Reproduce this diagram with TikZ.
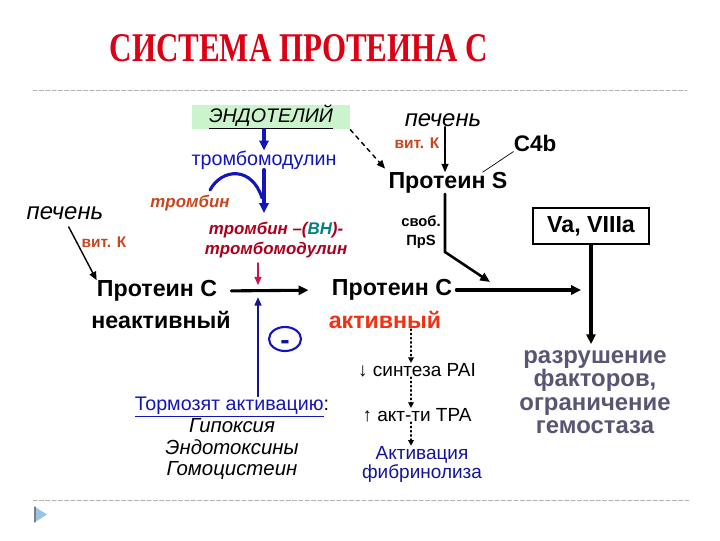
\documentclass[tikz,border=0pt]{standalone}
\usepackage{fontspec}
\setmainfont{Liberation Sans}
\newfontfamily\titlefont{Liberation Serif}
\usetikzlibrary{arrows.meta}
\usetikzlibrary{shapes.geometric}
\usetikzlibrary{calc}

\begin{document}
\begin{tikzpicture}
			[x=0.025cm,y=-0.025cm,line cap=round,
			%Styles
			txt/.style={inner sep=0pt,align=center},
			protein/.style={txt,font=\bfseries\fontsize{16.5}{19}\selectfont},
			liver/.style={txt,font=\itshape\fontsize{17}{20}\selectfont},
			vitk/.style={txt,text=brownred,font=\bfseries\fontsize{11}{13}\selectfont},
			plain text/.style={txt,font=\fontsize{13.5}{12.5}\selectfont},
			main arrow/.style={line width=2.2pt,-{Triangle[length=7pt,width=6.5pt]}},
			thin arrow/.style={line width=1pt,-{Triangle[length=6pt,width=5pt]}},
			dotted arrow/.style={dotted,line width=1pt,-{Triangle[length=4pt,width=4pt]}},
			separator/.style={gray!60,dash pattern=on 3pt off 1.5pt,line width=0.6pt}
			]
			
			%Colors
			\definecolor{titlered}{RGB}{220,0,20}
			\definecolor{endogreen}{RGB}{204,244,204}
			\definecolor{tbmblue}{RGB}{20,20,190}
			\definecolor{brownred}{RGB}{200,70,30}
			\definecolor{complexred}{RGB}{170,0,30}
			\definecolor{bhteal}{RGB}{0,128,128}
			\definecolor{activered}{RGB}{240,50,20}
			\definecolor{destrgray}{RGB}{90,85,115}
			\definecolor{navy}{RGB}{20,20,150}
			\definecolor{pinkred}{RGB}{200,20,80}
			\definecolor{bulletblue}{RGB}{150,195,230}
			
			\path[fill=white] (0,0) rectangle (720,540);
			
			%The graphic
			\node[txt,text=titlered,xscale=0.76,
				font=\titlefont\bfseries\fontsize{29}{32}\selectfont] (title) at (299,48) {СИСТЕМА ПРОТЕИНА С};
			\draw[separator] (33,90) -- (687,90);
			\draw[separator] (33,500) -- (690,500);
			\fill[bulletblue] (35,507) -- (47,514.5) -- (35,522) -- cycle;
			\draw[gray,line width=1pt] (35,507) -- (35,522);
			
			% endothelium branch
			\node[fill=endogreen,minimum width=3.95cm,minimum height=0.62cm,inner sep=0pt,
				font=\itshape\fontsize{14}{16}\selectfont] (endo) at (271,117) {\underline{ЭНДОТЕЛИЙ}};
			\node[txt,text=tbmblue,font=\fontsize{14}{17}\selectfont] (tbm) at (264,160) {тромбомодулин};
			\node[txt,text=brownred,font=\bfseries\itshape\fontsize{12}{14}\selectfont] (thr) at (190,203) {тромбин};
			\node[txt,text=complexred,font=\bfseries\itshape\fontsize{12}{14.2}\selectfont] (cmplx) at (276,240)
				{тромбин –(\textcolor{bhteal}{ВН})-\\тромбомодулин};
			
			\draw[main arrow,tbmblue] (endo.south -| tbm.north) -- (tbm.north);
			\draw[main arrow,tbmblue,shorten >=0.22cm] (tbm.south) -- (tbm.south |- cmplx.north);
			\coordinate (arcstart) at (210,190);
			\draw[tbmblue,line width=2.2pt] (arcstart) .. controls (222,168) and (252,166) .. (262,198);
			
			% protein C
			\node[liver] (liverL) at (65,213) {печень};
			\node[vitk] (vitkL) at (104,242) {вит. К};
			\node[protein] (pcin) at (157,291) {Протеин С};
			\node[protein] (pcinb) at (161,320) {неактивный};
			\node[protein] (pcact) at (392,290) {Протеин С};
			\node[protein,text=activered] (pcactb) at (385,320) {активный};
			\draw[thin arrow,shorten <=0.2cm] (liverL.south) -- (pcin.north west);
			\draw[main arrow,shorten <=0.35cm,shorten >=0.58cm] (pcin.east) -- (pcact.west);
			
			\coordinate (jn) at (258,290);
			\draw[thin arrow,pinkred,shorten <=0.12cm,shorten >=0.12cm] (jn |- cmplx.south) -- (jn);
			
			% inhibitors
			\node[ellipse,draw=tbmblue,line width=1.5pt,minimum width=0.8cm,minimum height=0.6cm,inner sep=0pt,
				text height=0.54em,text depth=0pt,
				text=navy,font=\bfseries\fontsize{20}{20}\selectfont] (minus) at (285,339) {\raisebox{-5pt}{-}};
			\node[txt,font=\fontsize{14}{17}\selectfont] (inhtitle) at (232,407)
				{\textcolor{tbmblue}{\underline{Тормозят активацию}}:};
			\node[txt,font=\itshape\fontsize{14.5}{15.2}\selectfont] (inhlist) at (232,449)
				{Гипоксия\\Эндотоксины\\Гомоцистеин};
			\draw[thin arrow,navy,shorten >=0.18cm] (inhtitle.north -| jn) -- (jn);
			
			% fibrinolysis
			\coordinate (dotx) at (411,0);
			\node[plain text] (pai) at (417,370) {↓ синтеза PAI};
			\node[plain text] (tpa) at (417,415) {↑ акт-ти TPA};
			\node[plain text,text=navy] (fib) at (422,464) {Активация\\фибринолиза};
			\draw[dotted arrow] (pcactb.south -| dotx) -- (pai.north -| dotx);
			\draw[dotted arrow] (pai.south -| dotx) -- (tpa.north -| dotx);
			\draw[dotted arrow] (tpa.south -| dotx) -- (fib.north -| dotx);
			
			% protein S
			\node[liver] (liverR) at (443,120) {печень};
			\node[vitk] (vitkR) at (417,143) {вит. К};
			\node[protein] (protS) at (448,183) {Протеин S};
			\node[protein,font=\bfseries\fontsize{16}{19}\selectfont] (c4b) at (535,143) {C4b};
			\node[txt,font=\bfseries\fontsize{10.5}{13}\selectfont] (freeS) at (421,232) {своб.\\ПрS};
			\draw[thin arrow] (liverR.south -| 445,0) -- (protS.north -| 445,0);
			\draw[line width=0.5pt] ($(protS.north)!0.58!(protS.north east)$) -- (c4b.south west);
			\draw[thin arrow,dashed,shorten >=0.12cm] (endo.south east) -- (protS.north west);
			\coordinate (bend) at (445,252);
			\coordinate (hit) at (490,282);
			\draw[line width=1.8pt,-{Triangle[length=7pt,width=6pt]}] (protS.south -| bend) -- (bend) -- (hit);
			
			% factors
			\node[draw,line width=0.8pt,minimum width=2.9cm,minimum height=0.9cm,inner sep=0pt,
				font=\bfseries\fontsize{16.5}{19}\selectfont] (va) at (591,226) {Va, VIIIa\hspace{0.25cm}};
			\node[txt,text=destrgray,font=\bfseries\fontsize{17}{16.6}\selectfont] (destr) at (595,392)
				{разрушение\\факторов,\\ограничение\\гемостаза};
			\coordinate (meet) at (581,0);
			\draw[main arrow,shorten <=0.1cm] (pcact.east) -- (pcact.east -| meet);
			\draw[main arrow,shorten >=0.15cm] (va.south) -- (va.south |- destr.north);
		\end{tikzpicture}
\end{document}
